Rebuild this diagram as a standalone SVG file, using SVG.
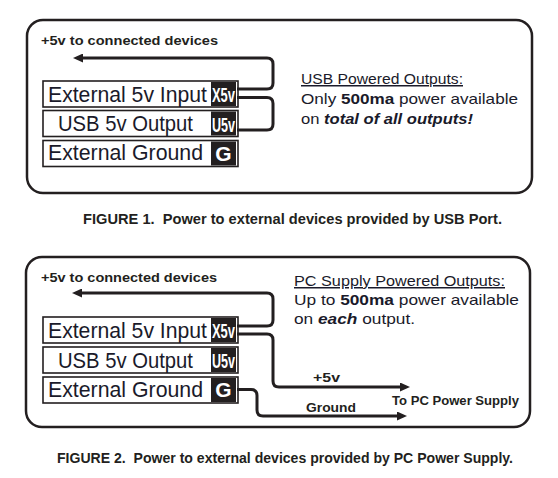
<svg xmlns="http://www.w3.org/2000/svg" width="558" height="478" viewBox="0 0 558 478">
<style>
.panel{fill:#fff;stroke:#231f20;stroke-width:2.5}
.row{fill:#fff;stroke:#231f20;stroke-width:1.6}
.tag{fill:#231f20}
.lbl{font-family:"Liberation Sans",Arial,sans-serif;font-size:21.5px;fill:#1a1a2a}
.tagt{font-family:"Liberation Sans",Arial,sans-serif;font-size:20px;font-weight:bold;fill:#fff}
.wire{fill:none;stroke:#231f20;stroke-width:3}
.note{font-family:"Liberation Sans",Arial,sans-serif;font-size:15px;fill:#1a1a2a}
.small{font-family:"Liberation Sans",Arial,sans-serif;font-size:13px;font-weight:bold;fill:#231f20}
.cap{font-family:"Liberation Sans",Arial,sans-serif;font-size:14.5px;font-weight:bold;fill:#231f20}
</style>
<defs>
<marker id="arr" viewBox="0 0 10 9" refX="0" refY="4.5" markerWidth="10" markerHeight="9" markerUnits="userSpaceOnUse" orient="auto">
<path d="M0,0 L10,4.5 L0,9 Z" fill="#231f20"/>
</marker>
</defs>
<rect width="558" height="478" fill="#fff"/>

<g id="panel1">
<rect class="panel" x="27" y="20" width="505" height="173" rx="16"/>
</g>
<g id="panel2">
<rect class="panel" x="26" y="257" width="504" height="170" rx="16"/>
</g>

<g id="p1-ext5v">
<rect class="row" x="43" y="81" width="195" height="26"/>
<rect class="tag" x="211" y="82" width="25" height="24"/>
<text class="lbl" x="48" y="102" textLength="159" lengthAdjust="spacingAndGlyphs">External 5v Input</text>
<text class="tagt" x="212" y="102" textLength="23" lengthAdjust="spacingAndGlyphs">X5v</text>
</g>
<g id="p1-usb5v">
<rect class="row" x="43" y="110.5" width="195" height="26"/>
<rect class="tag" x="211" y="111.5" width="25" height="24"/>
<text class="lbl" x="58" y="131" textLength="135" lengthAdjust="spacingAndGlyphs">USB 5v Output</text>
<text class="tagt" x="212" y="131.5" textLength="23" lengthAdjust="spacingAndGlyphs">U5v</text>
</g>
<g id="p1-gnd">
<rect class="row" x="43" y="140.5" width="195" height="26"/>
<rect class="tag" x="211" y="141.5" width="25" height="24"/>
<text class="lbl" x="48" y="160" textLength="155" lengthAdjust="spacingAndGlyphs">External Ground</text>
<text class="tagt" x="223.5" y="160.5" text-anchor="middle" style="font-size:21px">G</text>
</g>

<g id="p2-ext5v">
<rect class="row" x="43" y="317" width="195" height="26"/>
<rect class="tag" x="211" y="318" width="25" height="24"/>
<text class="lbl" x="48" y="338" textLength="159" lengthAdjust="spacingAndGlyphs">External 5v Input</text>
<text class="tagt" x="212" y="338" textLength="23" lengthAdjust="spacingAndGlyphs">X5v</text>
</g>
<g id="p2-usb5v">
<rect class="row" x="43" y="347" width="195" height="26"/>
<rect class="tag" x="211" y="348" width="25" height="24"/>
<text class="lbl" x="58" y="367.5" textLength="135" lengthAdjust="spacingAndGlyphs">USB 5v Output</text>
<text class="tagt" x="212" y="368" textLength="23" lengthAdjust="spacingAndGlyphs">U5v</text>
</g>
<g id="p2-gnd">
<rect class="row" x="43" y="377" width="195" height="26"/>
<rect class="tag" x="211" y="378" width="25" height="24"/>
<text class="lbl" x="48" y="396.5" textLength="155" lengthAdjust="spacingAndGlyphs">External Ground</text>
<text class="tagt" x="223.5" y="397" text-anchor="middle" style="font-size:21px">G</text>
</g>

<g id="connectors">
<path class="wire" d="M237,89 H267 Q273,89 273,83 V64 Q273,58 267,58 H83" marker-end="url(#arr)"/>
<path class="wire" d="M237,97.5 H267 Q273,97.5 273,103.5 V124 Q273,130 267,130 H237"/>
<path class="wire" d="M237,326 H267 Q273,326 273,320 V299 Q273,293 267,293 H82" marker-end="url(#arr)"/>
<path class="wire" d="M237,334 H267 Q273,334 273,340 V381 Q273,387 279,387 H400" marker-end="url(#arr)"/>
<path class="wire" d="M237,389.5 H251 Q257,389.5 257,395.5 V410 Q257,416 263,416 H397" marker-end="url(#arr)"/>
</g>

<g id="texts">
<text class="small" x="41" y="45" textLength="177" lengthAdjust="spacingAndGlyphs">+5v to connected devices</text>
<text class="note" x="301" y="84" textLength="162" lengthAdjust="spacingAndGlyphs" text-decoration="underline">USB Powered Outputs:</text>
<text class="note" x="301" y="104" textLength="217" lengthAdjust="spacingAndGlyphs">Only <tspan font-weight="bold">500ma</tspan> power available</text>
<text class="note" x="301" y="124" textLength="172" lengthAdjust="spacingAndGlyphs">on <tspan font-weight="bold" font-style="italic">total of all outputs!</tspan></text>
<text class="cap" x="83" y="224" textLength="419" lengthAdjust="spacingAndGlyphs" xml:space="preserve">FIGURE 1.  Power to external devices provided by USB Port.</text>

<text class="small" x="41" y="281.5" textLength="176" lengthAdjust="spacingAndGlyphs">+5v to connected devices</text>
<text class="note" x="294" y="286" textLength="211" lengthAdjust="spacingAndGlyphs" text-decoration="underline">PC Supply Powered Outputs:</text>
<text class="note" x="294" y="305" textLength="225" lengthAdjust="spacingAndGlyphs">Up to <tspan font-weight="bold">500ma</tspan> power available</text>
<text class="note" x="294" y="324" textLength="121" lengthAdjust="spacingAndGlyphs">on <tspan font-weight="bold" font-style="italic">each</tspan> output.</text>
<text class="small" x="313" y="381.5" textLength="27" lengthAdjust="spacingAndGlyphs">+5v</text>
<text class="small" x="306" y="411.5" textLength="50" lengthAdjust="spacingAndGlyphs">Ground</text>
<text class="small" x="392" y="405" textLength="127" lengthAdjust="spacingAndGlyphs">To PC Power Supply</text>
<text class="cap" x="57" y="463" textLength="456" lengthAdjust="spacingAndGlyphs" xml:space="preserve">FIGURE 2.  Power to external devices provided by PC Power Supply.</text>
</g>
</svg>
